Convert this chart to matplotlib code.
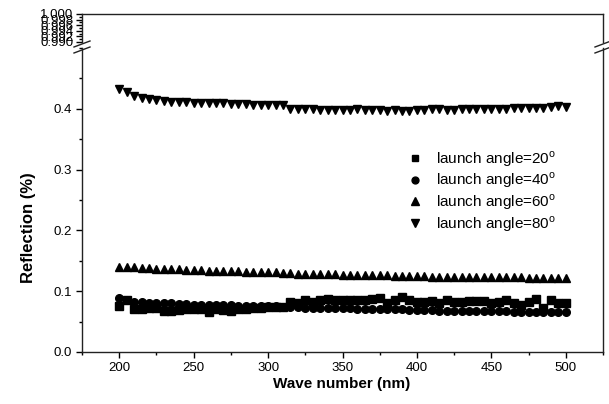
import matplotlib
matplotlib.use("Agg")
import matplotlib.pyplot as plt
from matplotlib.lines import Line2D
from matplotlib.ticker import MultipleLocator

plt.rcParams['font.family'] = ['Liberation Sans', 'DejaVu Sans']

wave = list(range(200, 505, 5))

r20 = [0.075, 0.086, 0.070, 0.070, 0.072, 0.073, 0.067, 0.068, 0.069, 0.070,
       0.071, 0.070, 0.065, 0.070, 0.069, 0.068, 0.070, 0.071, 0.072, 0.073,
       0.074, 0.074, 0.074, 0.083, 0.080, 0.085, 0.083, 0.086, 0.087, 0.086,
       0.086, 0.086, 0.085, 0.085, 0.087, 0.088, 0.080, 0.086, 0.090, 0.085,
       0.083, 0.083, 0.084, 0.080, 0.086, 0.083, 0.083, 0.084, 0.084, 0.084,
       0.081, 0.082, 0.085, 0.081, 0.078, 0.082, 0.087, 0.072, 0.085, 0.081,
       0.081]
r40 = [0.088, 0.085, 0.083, 0.082, 0.081, 0.081, 0.080, 0.080, 0.079, 0.079,
       0.078, 0.078, 0.078, 0.077, 0.077, 0.077, 0.076, 0.076, 0.076, 0.075,
       0.075, 0.075, 0.074, 0.074, 0.074, 0.073, 0.073, 0.073, 0.072, 0.072,
       0.072, 0.072, 0.071, 0.071, 0.071, 0.070, 0.070, 0.070, 0.070, 0.069,
       0.069, 0.069, 0.069, 0.068, 0.068, 0.068, 0.068, 0.068, 0.067, 0.067,
       0.067, 0.067, 0.067, 0.066, 0.066, 0.066, 0.066, 0.066, 0.066, 0.066,
       0.066]
r60 = [0.140, 0.139, 0.139, 0.138, 0.138, 0.137, 0.137, 0.136, 0.136, 0.135,
       0.135, 0.135, 0.134, 0.134, 0.133, 0.133, 0.133, 0.132, 0.132, 0.131,
       0.131, 0.131, 0.130, 0.130, 0.129, 0.129, 0.129, 0.128, 0.128, 0.128,
       0.127, 0.127, 0.127, 0.126, 0.126, 0.126, 0.126, 0.125, 0.125, 0.125,
       0.125, 0.125, 0.124, 0.124, 0.124, 0.124, 0.124, 0.124, 0.123, 0.123,
       0.123, 0.123, 0.123, 0.123, 0.123, 0.122, 0.122, 0.122, 0.122, 0.122,
       0.122]
r80 = [0.433, 0.427, 0.421, 0.418, 0.416, 0.414, 0.413, 0.412, 0.411, 0.411,
       0.410, 0.410, 0.409, 0.409, 0.409, 0.408, 0.408, 0.408, 0.407, 0.407,
       0.407, 0.406, 0.406, 0.399, 0.399, 0.400, 0.399, 0.398, 0.398, 0.398,
       0.398, 0.398, 0.399, 0.398, 0.398, 0.398, 0.397, 0.398, 0.397, 0.397,
       0.398, 0.398, 0.400, 0.399, 0.398, 0.398, 0.399, 0.399, 0.399, 0.400,
       0.399, 0.400, 0.400, 0.401, 0.401, 0.402, 0.402, 0.402, 0.403, 0.405,
       0.403]

labels = ['launch angle=20$^{\\mathregular{o}}$', 'launch angle=40$^{\\mathregular{o}}$',
          'launch angle=60$^{\\mathregular{o}}$', 'launch angle=80$^{\\mathregular{o}}$']
top_ticks = [0.990, 0.992, 0.994, 0.996, 0.998, 1.000]
bot_ticks = [0.0, 0.1, 0.2, 0.3, 0.4]
x_ticks = [200, 250, 300, 350, 400, 450, 500]

W, H = 609, 404
fig = plt.figure(figsize=(W / 100, H / 100), dpi=100)

def fr(x0, y0, x1, y1):
    return [x0 / W, 1 - y1 / H, (x1 - x0) / W, (y1 - y0) / H]

ax_top = fig.add_axes(fr(82, 14, 603, 42))
ax = fig.add_axes(fr(82, 48, 603, 352))

spine_c = '#222222'
for a in (ax, ax_top):
    for s in a.spines.values():
        s.set_linewidth(1.0)
        s.set_color(spine_c)
    a.set_xlim(175, 525)
    a.tick_params(axis='both', which='major', direction='out', length=4, width=1.0,
                  labelsize=9.5, colors='black', right=False, top=False)
    a.tick_params(axis='both', which='minor', direction='out', length=2, width=1.0,
                  right=False, top=False)

ax.spines['top'].set_visible(False)
ax_top.spines['bottom'].set_visible(False)
ax_top.tick_params(axis='x', which='both', bottom=False, labelbottom=False)

ax.set_ylim(0, 0.5)
ax.set_yticks(bot_ticks)
ax.set_yticklabels(['0.0', '0.1', '0.2', '0.3', '0.4'])
ax.yaxis.set_minor_locator(MultipleLocator(0.05))
ax.set_xticks(x_ticks)
ax.xaxis.set_minor_locator(MultipleLocator(25))

ax_top.set_ylim(0.990, 1.000)
ax_top.set_yticks(top_ticks)
ax_top.set_yticklabels(['%.3f' % v for v in top_ticks])
ax_top.yaxis.set_minor_locator(MultipleLocator(0.001))
ax_top.tick_params(axis='y', labelsize=9.5, pad=2)

ms = 5.5
h1, = ax.plot(wave, r20, 's', color='black', ms=ms, ls='none', label=labels[0])
h2, = ax.plot(wave, r40, 'o', color='black', ms=ms, ls='none', label=labels[1])
h3, = ax.plot(wave, r60, '^', color='black', ms=ms + 0.5, ls='none', label=labels[2])
h4, = ax.plot(wave, r80, 'v', color='black', ms=ms + 0.5, ls='none', label=labels[3])

leg = ax.legend(handles=[h1, h2, h3, h4], loc='upper left',
                bbox_to_anchor=(394 / W, 1 - 137 / H), bbox_transform=fig.transFigure,
                frameon=False, fontsize=11, handlelength=1.2, handletextpad=0.75,
                labelspacing=0.12, markerscale=0.9, borderpad=0.3)

# break marks
for xc in (82, 603):
    for dy in (0, 6):
        y0 = 48 + dy
        fig.add_artist(Line2D([(xc - 8) / W, (xc + 8) / W],
                              [1 - (y0 - 1) / H, 1 - (y0 - 7) / H],
                              transform=fig.transFigure, color=spine_c, lw=1.0))

fig.text(28 / W, 1 - 228 / H, 'Reflection (%)', rotation=90, fontsize=12,
         fontweight='bold', ha='center', va='center')
fig.text(342 / W, 1 - 384 / H, 'Wave number (nm)', fontsize=11,
         fontweight='bold', ha='center', va='center')

fig.savefig('out.png', dpi=100)
